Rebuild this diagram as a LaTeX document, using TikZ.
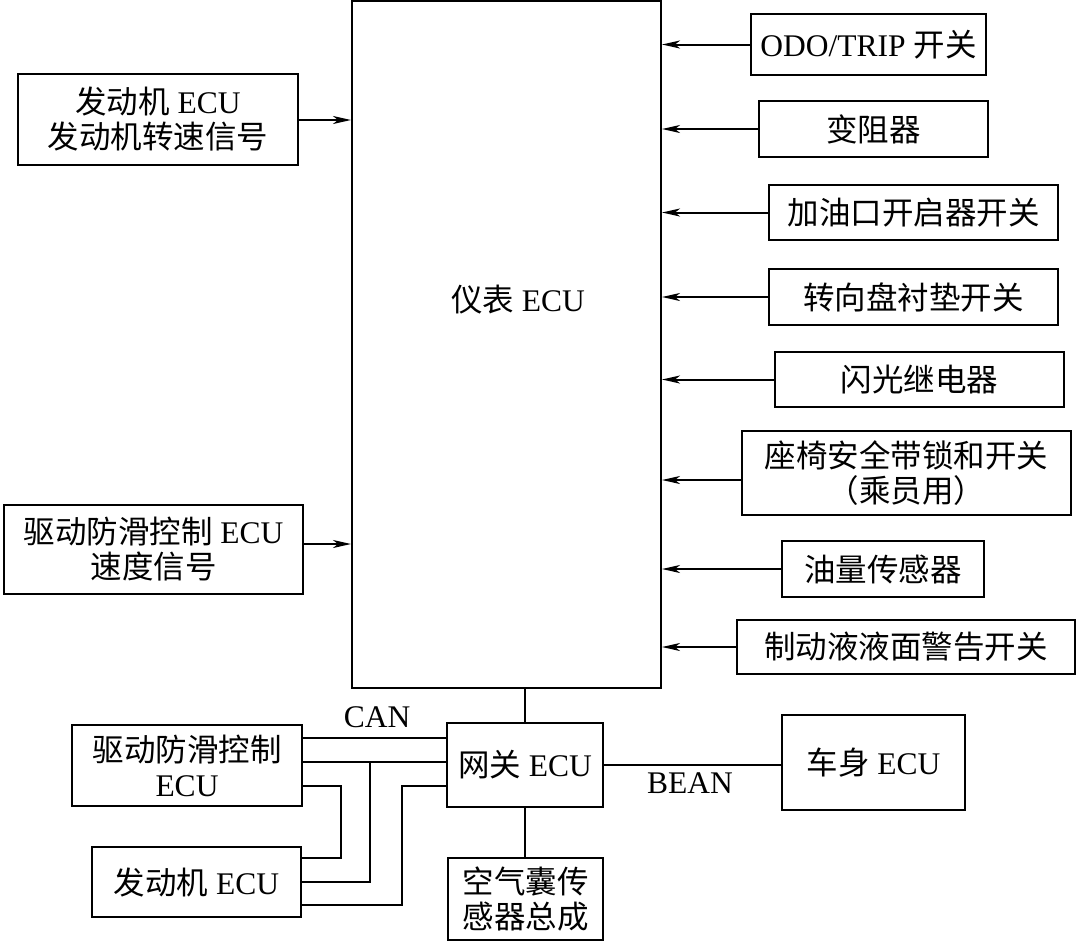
\documentclass[tikz,border=0pt]{standalone}
\usepackage{fontspec}
\setmainfont{Liberation Serif}
\newfontfamily\cjk{Noto Sans CJK SC}
\newcommand{\cj}[1]{{\cjk #1}}
\usetikzlibrary{arrows.meta}
\begin{document}
\begin{tikzpicture}[x=1pt,y=-1pt,
  box/.style={draw,line width=2pt,inner sep=0pt,align=center,font=\fontsize{31.5}{35}\selectfont},
  lbl/.style={inner sep=0pt,font=\fontsize{31.5}{35}\selectfont},
  wire/.style={line width=2pt},
  arr/.style={line width=2pt,-{Stealth[length=18pt,width=8pt,inset=5pt]}}]
\useasboundingbox (0,0) rectangle (1076,943);
% main ECU
\node[box,minimum width=309pt,minimum height=687pt] (main) at (506.5,344.5) {};
\node[lbl] (mainlbl) at (518,300) {\cj{仪表} ECU};
% right inputs
\node[box,minimum width=235pt,minimum height=61pt] (r1) at (868.5,44.5) {ODO/TRIP \cj{开关}};
\node[box,minimum width=229pt,minimum height=56pt] (r2) at (873.5,129) {\cj{变阻器}};
\node[box,minimum width=289pt,minimum height=55pt] (r3) at (913.5,212.5) {\cj{加油口开启器开关}};
\node[box,minimum width=289pt,minimum height=56pt] (r4) at (913.5,297) {\cj{转向盘衬垫开关}};
\node[box,minimum width=289pt,minimum height=55pt] (r5) at (919.5,379.5) {\cj{闪光继电器}};
\node[box,minimum width=329pt,minimum height=84pt] (r6) at (906.5,473) {\cj{座椅安全带锁和开关}\\\cj{（乘员用）}};
\node[box,minimum width=202pt,minimum height=56pt] (r7) at (883,569) {\cj{油量传感器}};
\node[box,minimum width=338pt,minimum height=54pt] (r8) at (906,647) {\cj{制动液液面警告开关}};
\foreach \n in {r1,r2,r3,r4,r5,r7,r8}
  \draw[arr] (\n.west) -- (\n.west -| main.east);
\coordinate (r6y) at (0,480);
\draw[arr] (r6.west |- r6y) -- (main.east |- r6y);
% left inputs
\node[box,minimum width=280pt,minimum height=91pt] (l1) at (158,119.5) {\cj{发动机} ECU\\\cj{发动机转速信号}};
\node[box,minimum width=299pt,minimum height=89pt] (l2) at (153.5,549.5) {\cj{驱动防滑控制} ECU\\\cj{速度信号}};
\coordinate (l1y) at (0,120);
\coordinate (l2y) at (0,544);
\draw[arr] (l1.east |- l1y) -- (main.west |- l1y);
\draw[arr] (l2.east |- l2y) -- (main.west |- l2y);
% bottom network
\node[box,minimum width=156pt,minimum height=84pt] (gw) at (525,765) {\cj{网关} ECU};
\node[box,minimum width=183pt,minimum height=95pt] (body) at (873.5,762.5) {\cj{车身} ECU};
\node[box,minimum width=155pt,minimum height=82pt] (air) at (525.5,899) {\cj{空气囊传}\\\cj{感器总成}};
\node[box,minimum width=230pt,minimum height=81pt] (abs) at (187,765.5) {\cj{驱动防滑控制}\\ECU};
\node[box,minimum width=209pt,minimum height=70pt] (eng) at (196.5,882) {\cj{发动机} ECU};
\draw[wire] (main.south -| gw.north) -- (gw.north);
\draw[wire] (gw.south) -- (air.north -| gw.south);
\draw[wire] (gw.east) -- (body.west |- gw.east);
\node[lbl] (bean) at (690,783) {BEAN};
\node[lbl] (can) at (377,717) {CAN};
\coordinate (c1) at (0,738);
\coordinate (c2) at (0,762);
\coordinate (c3) at (0,786);
\coordinate (j1) at (341,858);
\coordinate (j2t) at (370,762);
\coordinate (j2) at (370,882);
\coordinate (j3) at (402,905);
\draw[wire] (abs.east |- c1) -- (gw.west |- c1);
\draw[wire] (abs.east |- c2) -- (gw.west |- c2);
\draw[wire] (j2t) -- (j2) -- (eng.east |- j2);
\draw[wire] (abs.east |- c3) -| (j1) -- (eng.east |- j1);
\draw[wire] (gw.west |- c3) -| (j3) -- (eng.east |- j3);
\end{tikzpicture}
\end{document}
